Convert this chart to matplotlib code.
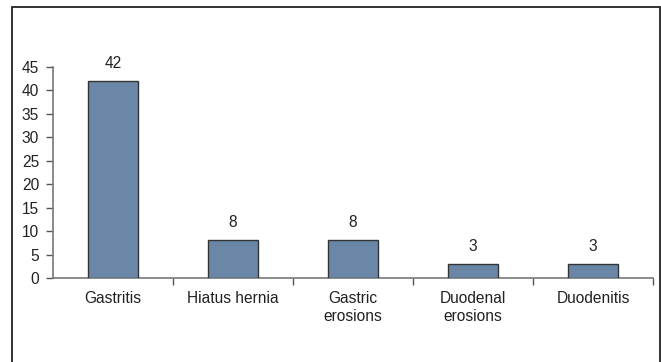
import matplotlib
matplotlib.use("Agg")
import matplotlib.pyplot as plt
from matplotlib.patches import Rectangle

categories = ["Gastritis", "Hiatus hernia", "Gastric\nerosions", "Duodenal\nerosions", "Duodenitis"]
counts = [42, 8, 8, 3, 3]
y_ticks = [0, 5, 10, 15, 20, 25, 30, 35, 40, 45]

plt.rcParams["font.family"] = ["Liberation Sans", "DejaVu Sans"]

fig = plt.figure(figsize=(6.61, 3.62), dpi=100)

# outer frame around the chart
frame = Rectangle((0.0182, -0.02), 0.9803, 1.0007, transform=fig.transFigure,
                  fill=False, edgecolor="#222222", linewidth=1.3, zorder=0)
fig.patches.append(frame)

ax = fig.add_axes([0.0802, 0.232, 0.9077, 0.583])
x = range(len(categories))
ax.bar(x, counts, width=0.41, color="#6a87a8", edgecolor="#333333", linewidth=1.0, zorder=3)

for xi, v in zip(x, counts):
    ax.annotate(str(v), (xi, v), xytext=(0, 7.5), textcoords="offset points",
                ha="center", va="bottom", fontsize=11.2, color="#222222")

ax.set_xlim(-0.5, len(categories) - 0.5)
ax.set_ylim(0, 45)
ax.set_yticks(y_ticks)
ax.set_yticklabels([str(t) for t in y_ticks])

# category boundary ticks, labels centred between them
ax.set_xticks([i + 0.5 for i in range(len(categories))])
ax.set_xticklabels([])
ax.set_xticks(list(x), minor=True)
ax.set_xticklabels(categories, minor=True, fontsize=11.2, color="#222222", va="top", linespacing=1.3)
ax.tick_params(axis="x", which="minor", length=0, pad=9)
ax.tick_params(axis="x", which="major", length=5, direction="out", color="#555555", width=1)
ax.tick_params(axis="y", length=5, direction="out", color="#555555", width=1,
               labelsize=11.2, labelcolor="#222222", pad=5)

for side in ("top", "right"):
    ax.spines[side].set_visible(False)
for side in ("left", "bottom"):
    ax.spines[side].set_color("#777777")
    ax.spines[side].set_linewidth(1.2)

fig.savefig("out.png", dpi=100)
